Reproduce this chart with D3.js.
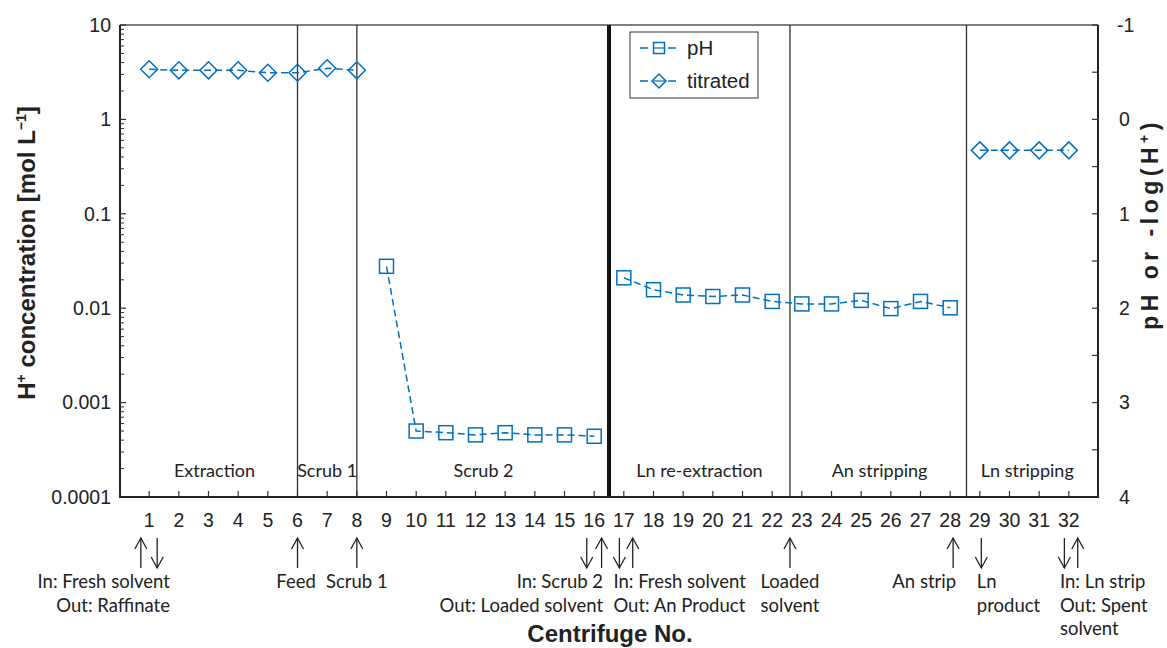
<!DOCTYPE html>
<html><head><meta charset="utf-8">
<script src="https://cdn.jsdelivr.net/npm/d3@7"></script>
<style>body{margin:0;background:#fff}svg{display:block}</style>
</head><body>
<svg id="c" width="1167" height="648"></svg>
<script>
// ---- data ----
const titratedX = [1,2,3,4,5,6,7,8,29,30,31,32];
const titratedY = [3.40,3.31,3.31,3.31,3.12,3.12,3.48,3.31,0.47,0.47,0.47,0.47];
const phX = [9,10,11,12,13,14,15,16,17,18,19,20,21,22,23,24,25,26,27,28];
const phY = [0.0278,0.00050,0.00048,0.000455,0.00048,0.000455,0.000455,0.00044,
             0.021,0.0157,0.0138,0.0133,0.0138,0.0118,0.0111,0.0111,0.0121,0.0099,0.0118,0.0101];
const xTicks = d3.range(1,33);
const leftTicks = [10,1,0.1,0.01,0.001,0.0001];
const leftTickLabels = ["10","1","0.1","0.01","0.001","0.0001"];
const rightTicks = [-1,0,1,2,3,4];
const dividers = [6,8,16.5,22.6,28.55];
const dividerThick = [false,false,true,false,false];
const sectionNames = ["Extraction","Scrub 1","Scrub 2","Ln re-extraction","An stripping","Ln stripping"];
const sectionCenters = [3.2,7.0,12.27,19.55,25.62,30.6];
// annotations: arrows (position, direction) and text blocks
const arrowPos = [0.72,1.27,6,8,15.75,16.25,16.85,17.3,22.6,28.1,29.05,31.85,32.3];
const arrowDir = ["up","down","up","up","down","up","down","up","up","up","down","down","up"];
const noteLines = [["In: Fresh solvent","Out: Raffinate"],["Feed"],["Scrub 1"],["In: Scrub 2","Out: Loaded solvent"],
                   ["In: Fresh solvent","Out: An Product"],["Loaded","solvent"],["An strip"],["Ln","product"],["In: Ln strip","Out: Spent","solvent"]];
const noteAnchorX = [1.7,5.95,8.0,16.3,16.65,22.6,28.2,28.9,31.7];
const noteAlign = ["end","middle","middle","end","start","middle","end","start","start"];

// ---- layout ----
const svg = d3.select("#c");
const L=120, R=1098, T=25, B=497;
const x = d3.scaleLinear().domain([0,33]).range([L-0.5,R+0.5]);
const y = d3.scaleLog().domain([0.0001,10]).range([B,T]);
const yR = d3.scaleLinear().domain([4,-1]).range([B,T]);
const blue = "#0070C0";
const numFont = "'Liberation Sans', Arial, sans-serif";
const txtFont = "Lato, 'Open Sans', sans-serif";
const numSize = 19.5, noteSize = 18.5;

// frame
svg.append("line").attr("x1",L).attr("x2",R).attr("y1",T).attr("y2",T).attr("stroke","#555").attr("stroke-width",1.5);

// dividers
dividers.forEach((d,i)=>{
  svg.append("line").attr("x1",x(d)).attr("x2",x(d)).attr("y1",T).attr("y2",B)
    .attr("stroke", dividerThick[i]?"#111":"#333").attr("stroke-width", dividerThick[i]?4:1.3);
});

// section labels
sectionNames.forEach((s,i)=>{
  svg.append("text").attr("x",x(sectionCenters[i])).attr("y",477).attr("text-anchor","middle")
    .attr("font-family",txtFont).attr("font-size",18).attr("fill","#222").text(s);
});

// left axis
const gL = svg.append("g").attr("transform",`translate(${L},0)`);
gL.append("line").attr("y1",T).attr("y2",B).attr("stroke","#222").attr("stroke-width",2);
const minors=[];
[0.0001,0.001,0.01,0.1,1].forEach(dec=>{for(let k=2;k<=9;k++)minors.push(dec*k);});
gL.selectAll(".mn").data(minors).enter().append("line").attr("x1",0).attr("x2",4)
  .attr("y1",d=>y(d)).attr("y2",d=>y(d)).attr("stroke","#333").attr("stroke-width",1);
gL.selectAll(".mj").data(leftTicks).enter().append("line").attr("x1",0).attr("x2",6)
  .attr("y1",d=>y(d)).attr("y2",d=>y(d)).attr("stroke","#333").attr("stroke-width",1.2);
gL.selectAll(".lb").data(leftTicks).enter().append("text").attr("x",-9).attr("y",d=>y(d)).attr("dy","0.35em")
  .attr("text-anchor","end").attr("font-family",numFont).attr("font-size",numSize).attr("fill","#222")
  .text((d,i)=>leftTickLabels[i]);

// right axis
const gR = svg.append("g").attr("transform",`translate(${R},0)`);
gR.append("line").attr("y1",T).attr("y2",B).attr("stroke","#222").attr("stroke-width",2);
gR.selectAll(".mj").data(d3.range(-1,4.01,0.5)).enter().append("line").attr("x1",0).attr("x2",-6)
  .attr("y1",d=>yR(d)).attr("y2",d=>yR(d)).attr("stroke","#333").attr("stroke-width",1.2);
gR.selectAll(".lb").data(rightTicks).enter().append("text").attr("x",d=>d<0?19:21).attr("y",d=>yR(d)).attr("dy","0.35em")
  .attr("text-anchor","start").attr("font-family",numFont).attr("font-size",numSize).attr("fill","#222").text(d=>d);

// bottom axis
const gB = svg.append("g").attr("transform",`translate(0,${B})`);
gB.append("line").attr("x1",L-1).attr("x2",R+1).attr("stroke","#222").attr("stroke-width",2);
gB.selectAll(".tk").data(d3.range(0,34)).enter().append("line").attr("x1",d=>x(d)).attr("x2",d=>x(d))
  .attr("y1",0).attr("y2",-6).attr("stroke","#333").attr("stroke-width",1.2);
gB.selectAll(".lb").data(xTicks).enter().append("text").attr("x",d=>x(d)).attr("y",30)
  .attr("text-anchor","middle").attr("font-family",numFont).attr("font-size",numSize).attr("fill","#222").text(d=>d);

// axis titles
svg.append("text").attr("x",610).attr("y",642).attr("text-anchor","middle").attr("font-family",numFont)
  .attr("font-weight","bold").attr("font-size",24).attr("fill","#222").text("Centrifuge No.");
const lt = svg.append("text").attr("transform","translate(35,253) rotate(-90)").attr("text-anchor","middle")
  .attr("font-family",numFont).attr("font-weight","bold").attr("font-size",24).attr("fill","#222");
lt.append("tspan").text("H");
lt.append("tspan").attr("font-size",14).attr("dy",-9).text("+");
lt.append("tspan").attr("dy",9).text(" concentration [mol L");
lt.append("tspan").attr("font-size",14).attr("dy",-9).text("−1");
lt.append("tspan").attr("dy",9).text("]");
const rt = svg.append("text").attr("transform","translate(1158,224) rotate(-90)").attr("text-anchor","middle")
  .attr("font-family",numFont).attr("font-weight","bold").attr("font-size",23).attr("letter-spacing",4.5).attr("fill","#222");
rt.append("tspan").text("pH or -log(H");
rt.append("tspan").attr("font-size",14).attr("dy",-9).text("+");
rt.append("tspan").attr("dy",9).text(")");

// series lines
const lineGen = d3.line().x(d=>x(d[0])).y(d=>y(d[1]));
const tSegs = [d3.range(0,8), d3.range(8,12)].map(idx=>idx.map(i=>[titratedX[i],titratedY[i]]));
tSegs.forEach(seg=>svg.append("path").attr("d",lineGen(seg)).attr("fill","none").attr("stroke",blue)
  .attr("stroke-width",1.5).attr("stroke-dasharray","7,4"));
const pSegs = [d3.range(0,8), d3.range(8,20)].map(idx=>idx.map(i=>[phX[i],phY[i]]));
pSegs.forEach(seg=>svg.append("path").attr("d",lineGen(seg)).attr("fill","none").attr("stroke",blue)
  .attr("stroke-width",1.5).attr("stroke-dasharray","7,4"));

// markers
const sq = 14, dm = 8.5;
svg.selectAll(".sq").data(phX).enter().append("rect")
  .attr("x",(d)=>x(d)-sq/2).attr("y",(d,i)=>y(phY[i])-sq/2).attr("width",sq).attr("height",sq)
  .attr("fill","none").attr("stroke",blue).attr("stroke-width",1.5);
svg.selectAll(".dm").data(titratedX).enter().append("path")
  .attr("d",(d,i)=>{const cx=x(d),cy=y(titratedY[i]);return `M${cx-dm},${cy}L${cx},${cy-dm}L${cx+dm},${cy}L${cx},${cy+dm}Z`;})
  .attr("fill","none").attr("stroke",blue).attr("stroke-width",1.5);

// legend
const lg = svg.append("g").attr("transform","translate(630,32)");
lg.append("rect").attr("width",128).attr("height",66).attr("fill","#fff").attr("stroke","#333").attr("stroke-width",1);
[["pH","sq"],["titrated","dm"]].forEach((e,i)=>{
  const yy = 16 + i*33;
  lg.append("line").attr("x1",10).attr("x2",48).attr("y1",yy).attr("y2",yy).attr("stroke",blue)
    .attr("stroke-width",1.5).attr("stroke-dasharray","8,6");
  if(e[1]==="sq") lg.append("rect").attr("x",29-5.5).attr("y",yy-5.5).attr("width",11).attr("height",11)
    .attr("fill","#fff").attr("stroke",blue).attr("stroke-width",1.5);
  else lg.append("path").attr("d",`M${22},${yy}L29,${yy-7}L36,${yy}L29,${yy+7}Z`).attr("fill","#fff").attr("stroke",blue).attr("stroke-width",1.5);
  if(e[1]==="sq") lg.append("line").attr("x1",23.5).attr("x2",34.5).attr("y1",yy).attr("y2",yy).attr("stroke",blue).attr("stroke-width",1.2);
  else lg.append("line").attr("x1",22).attr("x2",36).attr("y1",yy).attr("y2",yy).attr("stroke",blue).attr("stroke-width",1.2);
  lg.append("text").attr("x",57).attr("y",yy).attr("dy","0.35em").attr("font-family",numFont)
    .attr("font-size",20.5).attr("fill","#222").text(e[0]);
});

// annotation arrows
const aTop=538, aBot=568;
arrowPos.forEach((p,i)=>{
  const ax = x(p);
  const g = svg.append("g").attr("stroke","#222").attr("stroke-width",1.3).attr("fill","none");
  g.append("line").attr("x1",ax).attr("x2",ax).attr("y1",aTop).attr("y2",aBot);
  const tip = arrowDir[i]==="up"?aTop:aBot, s = arrowDir[i]==="up"?1:-1;
  g.append("path").attr("d",`M${ax-6},${tip+s*11}L${ax},${tip}L${ax+6},${tip+s*11}`);
});
// annotation text
noteLines.forEach((lines,i)=>{
  lines.forEach((t,j)=>{
    svg.append("text").attr("x",x(noteAnchorX[i])).attr("y",588+j*23.5).attr("text-anchor",noteAlign[i])
      .attr("font-family",txtFont).attr("font-size",noteSize).attr("fill","#222").text(t);
  });
});
</script>
</body></html>
